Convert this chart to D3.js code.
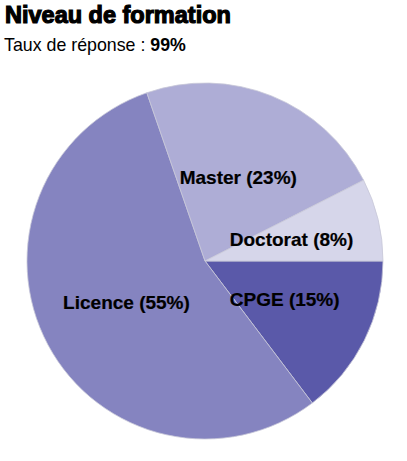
<!DOCTYPE html>
<html><head><meta charset="utf-8">
<script src="https://cdn.jsdelivr.net/npm/d3@7"></script>
<style>body{margin:0;background:#fff}svg{display:block}</style>
</head><body>
<script>
const categories = ["CPGE", "Licence", "Master", "Doctorat"];
const values = [14.7, 55.0, 22.8, 7.5];
const colors = ["#5a59a9", "#8584c0", "#aeadd6", "#d6d6ea"];
const title = "Niveau de formation";
const subtitleText = "Taux de réponse : ";
const subtitleValue = "99%";

const W = 407, H = 461, cx = 205, cy = 261, R = 178;
const svg = d3.select("body").append("svg").attr("width", W).attr("height", H);

svg.append("text").attr("x", 5).attr("y", 23)
  .attr("font-family", "Liberation Sans, Arial, sans-serif").attr("font-size", 23.5).attr("font-weight", "bold")
  .attr("stroke", "#000").attr("stroke-width", 1.2).attr("fill", "#000").text(title);
const st = svg.append("text").attr("x", 4).attr("y", 51)
  .attr("font-family", "Liberation Sans, Arial, sans-serif").attr("font-size", 17.8).attr("fill", "#000");
st.append("tspan").text(subtitleText);
st.append("tspan").attr("font-weight", "bold").text(subtitleValue);

const data = categories.map((c, i) => ({ name: c, value: values[i], color: colors[i] }));
const pie = d3.pie().value(d => d.value).sort(null)
  .startAngle(Math.PI / 2).endAngle(Math.PI / 2 + 2 * Math.PI);
const arc = d3.arc().innerRadius(0).outerRadius(R);
const labelArc = d3.arc().innerRadius(R * 0.5).outerRadius(R * 0.5);

const g = svg.append("g").attr("transform", `translate(${cx},${cy})`);
const arcs = pie(data);
g.selectAll("path").data(arcs).join("path")
  .attr("d", arc).attr("fill", d => d.data.color)
  .attr("stroke", "#c8c8d8").attr("stroke-width", 0.8);

g.selectAll("text").data(arcs).join("text")
  .attr("transform", d => `translate(${labelArc.centroid(d)})`)
  .attr("text-anchor", "middle").attr("dy", "0.3em")
  .attr("font-family", "Liberation Sans, Arial, sans-serif").attr("font-size", 19).attr("font-weight", "bold")
  .attr("fill", "#000").attr("stroke", "#000").attr("stroke-width", 0.2)
  .text(d => `${d.data.name} (${Math.round(d.data.value)}%)`);
</script>
</body></html>
